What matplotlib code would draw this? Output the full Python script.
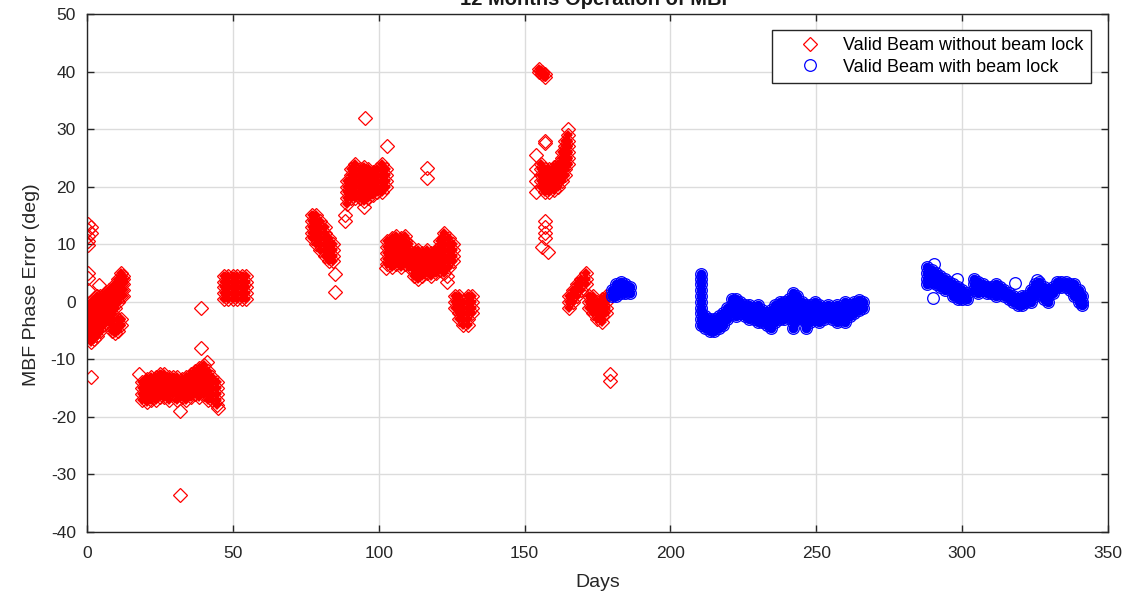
import numpy as np
import matplotlib.pyplot as plt

plt.rcParams['font.family'] = ['Liberation Sans', 'DejaVu Sans']
plt.rcParams['axes.unicode_minus'] = False

# red diamonds: valid beam without beam lock
# dense clusters as columns of (day, [phase error deg])
red_cols = [
    # days 0-13
    (0.5, [-6, -5, -4, -3, -2, -1]),
    (1.5, [-7, -6, -5, -4, -3, -2, -1, 0]),
    (2.5, [-6.5, -5, -4, -3, -2, -1, 0]),
    (3.5, [-6, -5, -4, -3, -2, -1, 0, 1]),
    (4.5, [-5, -4, -3, -2, -1, 0, 1]),
    (5.5, [-4, -3, -2, -1, 0, 1]),
    (6.5, [-3.5, -2.5, -1.5, -0.5, 0.5, 1.5]),
    (7.5, [-3, -2, -1, 0, 1, 2]),
    (8.5, [-5, -4, -3, -2, -1, 0, 1, 2]),
    (9.5, [-5.5, -4.5, -1, 0, 1, 2, 3]),
    (10.5, [-5, -4, -3, 0, 1, 2, 3, 4]),
    (11.5, [-4, -3, 1, 2, 3, 4, 5]),
    (12.5, [1, 2, 3, 4, 4.5]),
    # days 18-46
    (19.0, [-14, -15, -16, -17]),
    (20.5, [-13.5, -14.5, -15.5, -16.5, -17.5]),
    (22.0, [-13, -14, -15, -16, -17]),
    (23.5, [-13, -14, -15, -16, -17]),
    (25.0, [-12.5, -13.5, -14.5, -15.5, -16.5]),
    (26.5, [-12.5, -13.5, -14.5, -15.5, -16.5]),
    (28.0, [-13, -14, -15, -16, -17]),
    (29.5, [-13, -14, -15, -16]),
    (31.0, [-13, -14, -15, -16, -17]),
    (32.5, [-13.5, -14.5, -15.5, -16.5]),
    (34.0, [-13, -14, -15, -16, -17]),
    (35.5, [-12.5, -13.5, -14.5, -15.5, -16.5]),
    (37.0, [-12, -13, -14, -15, -16]),
    (38.5, [-11.5, -12.5, -13.5, -14.5, -15.5, -16.5]),
    (40.0, [-11, -12, -13, -14, -15, -16]),
    (41.5, [-12, -13, -14, -15, -16, -17]),
    (43.0, [-13, -14, -15, -16, -17]),
    (44.5, [-14, -15, -16, -17, -18]),
    # days 46-55
    (47.0, [0.5, 1.5, 2.5, 3.5, 4.5]),
    (48.5, [0.5, 1.5, 2.5, 3.5, 4.5]),
    (50.0, [0.5, 1.5, 2.5, 3.5, 4.5]),
    (51.5, [0.5, 1.5, 2.5, 3.5, 4.5]),
    (53.0, [0.5, 1.5, 2.5, 3.5, 4.5]),
    (54.5, [0.5, 1.5, 2.5, 3.5, 4.5]),
    # days 77-86
    (77.0, [11, 12, 13, 14, 15]),
    (78.5, [10, 11, 12, 13, 14, 15]),
    (80.0, [9, 10, 11, 12, 13, 14]),
    (81.5, [8, 9, 10, 11, 12, 13]),
    (83.0, [7, 8, 9, 10, 11]),
    (84.5, [7, 8, 9, 10]),
    # days 88-103
    (89.0, [17, 18, 19, 20, 21]),
    (90.5, [18, 19, 20, 21, 22, 23]),
    (92.0, [18, 19, 20, 21, 22, 23, 24]),
    (93.5, [18, 19, 20, 21, 22, 23]),
    (95.0, [17.5, 18.5, 19.5, 20.5, 21.5, 22.5, 23.5]),
    (96.5, [18, 19, 20, 21, 22, 23]),
    (98.0, [18.5, 19.5, 20.5, 21.5, 22.5]),
    (99.5, [19, 20, 21, 22, 23]),
    (101.0, [19, 20, 21, 22, 23, 24]),
    (102.5, [20, 21, 22, 23]),
    # days 103-126
    (103.0, [6.5, 7.5, 8.5, 9.5, 10.5]),
    (104.5, [6, 7, 8, 9, 10, 11]),
    (106.0, [6.5, 7.5, 8.5, 9.5, 10.5, 11.5]),
    (107.5, [6, 7, 8, 9, 10, 11]),
    (109.0, [6.5, 7.5, 8.5, 9.5, 10.5, 11.5]),
    (110.5, [6, 7, 8, 9, 10]),
    (112.0, [4.5, 5.5, 6.5, 7.5, 8.5]),
    (113.5, [4, 5, 6, 7, 8, 9]),
    (115.0, [4.5, 5.5, 6.5, 7.5, 8.5]),
    (116.5, [5, 6, 7, 8, 9]),
    (118.0, [4.5, 5.5, 6.5, 7.5, 8.5]),
    (119.5, [5, 6, 7, 8, 9]),
    (121.0, [5.5, 6.5, 7.5, 8.5, 9.5, 10.5]),
    (122.5, [5, 6, 7, 8, 9, 10, 11, 12]),
    (124.0, [6, 7, 8, 9, 10, 11]),
    (125.5, [7, 8, 9, 10]),
    # days 126-133
    (126.0, [-1, 0, 1]),
    (127.5, [-3, -2, -1, 0, 1]),
    (129.0, [-4, -3, -2, -1, 0]),
    (130.5, [-4, -3, -2, -1, 0, 1]),
    (132.0, [-2, -1, 0, 1]),
    # days 153-166
    (155.0, [40.5, 40.0]),
    (155.5, [20, 21, 22, 23, 24]),
    (156.0, [40.0, 39.5]),
    (157.0, [39.5, 39.0, 19, 20, 21, 22, 23]),
    (158.5, [19, 20, 21, 22, 23]),
    (160.0, [19.5, 20.5, 21.5, 22.5, 23.5]),
    (161.5, [20, 21, 22, 23, 24]),
    (163.0, [21, 22, 23, 24, 25, 26]),
    (164.0, [22, 23, 24, 25, 26, 27, 28]),
    (165.0, [24, 25, 26, 27, 28, 29]),
    # days 165-179
    (165.2, [-1, 0, 1]),
    (166.5, [0, 1, 2]),
    (168.0, [1, 2, 3]),
    (169.5, [2, 3, 4]),
    (171.0, [3, 4, 5]),
    (172.0, [0, 1, -1]),
    (173.5, [-2, -1, 0, 1]),
    (175.0, [-3, -2, -1, 0]),
    (176.5, [-3.5, -2.5, -1.5, -0.5, 0.5]),
    (178.0, [-2, -1, 0, 1]),
]
# scattered single points
red_iso_day = [0.5, 0.5, 0.5, 0.5, 0.5, 0.5, 0.5, 0.5, 1.5, 1.5, 1.5, 4.0,
               18.0, 32.0, 32.0, 39.0, 39.0, 41.0, 45.0, 85.0, 85.0, 88.5, 88.5,
               95.3, 95.0, 102.7, 102.5, 116.4, 116.4, 123.5, 123.5,
               154.0, 154.0, 154.0, 154.0, 156.0, 157.0, 157.0, 157.0, 157.0,
               157.0, 157.0, 158.0, 165.0, 179.3, 179.3]
red_iso_deg = [13.5, 12.5, 11.5, 10.5, 9.8, 5.0, 4.2, 2.0, 13.0, 12.0, -13.0, 2.9,
               -12.5, -19.0, -33.5, -1.0, -8.0, -10.5, -18.5, 4.8, 1.7, 15.0, 14.0,
               32.0, 16.5, 27.0, 5.8, 23.2, 21.5, 4.5, 3.5,
               19.0, 21.0, 23.0, 25.5, 9.5, 28.0, 27.5, 14.0, 13.0,
               12.0, 11.0, 8.7, 30.0, -12.5, -13.7]

# blue circles: valid beam with beam lock
blue_cols = [
    (180.0, [1, 2]),
    (181.5, [1, 2, 3]),
    (183.0, [1.5, 2.5, 3.5]),
    (184.5, [1.5, 2.5, 3]),
    (186.0, [1.5, 2.5]),
    (210.5, [4.8, 4, 3, 2, 1, 0, -1, -2, -3, -4]),
    (212.0, [-2.5, -3.5, -4.5]),
    (213.5, [-3, -4, -5]),
    (215.0, [-3, -4, -5]),
    (216.5, [-2.5, -3.5, -4.5]),
    (218.0, [-2, -3, -4]),
    (219.5, [-1, -2, -3]),
    (221.0, [0.5, -0.5, -1.5, -2]),
    (222.5, [0.5, -0.5, -1.5, -2.5]),
    (224.0, [0, -1, -2]),
    (225.5, [-0.5, -1.5, -2.5]),
    (227.0, [-0.5, -1.5, -2.5, -3]),
    (228.5, [-1, -2, -3]),
    (230.0, [-0.5, -1.5, -2.5, -3.5]),
    (231.5, [-1.5, -2.5, -3.5]),
    (233.0, [-2, -3, -4]),
    (234.5, [-1.5, -2.5, -3.5, -4.5]),
    (236.0, [-0.5, -1.5, -2.5, -3.5]),
    (237.5, [0, -1, -2, -3]),
    (239.0, [0, -1, -2, -3]),
    (240.5, [0.5, -0.5, -1.5, -2.5]),
    (242.0, [1.5, 0.5, -0.5, -1.5, -2.5, -3.5, -4.5]),
    (243.5, [1, 0, -1, -2, -3]),
    (245.0, [0, -1, -2, -3]),
    (246.5, [-0.5, -1.5, -2.5, -3.5, -4.5]),
    (248.0, [-0.5, -1.5, -2.5, -3.5]),
    (249.5, [0, -1, -2, -3]),
    (251.0, [-0.5, -1.5, -2.5, -3.5]),
    (252.5, [-1, -2, -3]),
    (254.0, [-0.5, -1.5, -2.5]),
    (255.5, [-1, -2, -3]),
    (257.0, [-0.5, -1.5, -2.5, -3.5]),
    (258.5, [-1, -2, -3]),
    (260.0, [0, -1, -2, -3.5]),
    (261.5, [-0.5, -1.5, -2.5]),
    (263.0, [0, -1, -2]),
    (264.5, [0.3, -0.7, -1.5]),
    (266.0, [0, -1]),
    (288.0, [6, 5, 4, 3]),
    (289.5, [5.5, 4.5, 3.5]),
    (291.0, [5, 4, 3]),
    (292.5, [4.5, 3.5, 2.5]),
    (294.0, [4, 3, 2]),
    (295.5, [3.5, 2.5]),
    (297.0, [3, 2, 1]),
    (298.5, [2.5, 1.5, 0.5]),
    (300.0, [2, 1, 0.5]),
    (301.5, [1.5, 0.5]),
    (304.0, [4, 3, 2]),
    (305.5, [3.5, 2.5, 1.5]),
    (307.0, [3, 2]),
    (308.5, [2.5, 1.5]),
    (310.0, [2.5, 1.5]),
    (311.5, [3, 2, 1]),
    (313.0, [2.5, 1.5]),
    (314.5, [2, 1]),
    (316.0, [1.5, 0.5]),
    (317.5, [1, 0]),
    (319.0, [0.5, -0.5]),
    (320.5, [1, 0, -0.5]),
    (322.0, [1, 0]),
    (323.5, [2, 1, 0]),
    (325.0, [3, 2, 1]),
    (326.5, [3.5, 2.5, 1.5]),
    (328.0, [2.5, 1.5, 0.5]),
    (329.5, [2, 1, 0]),
    (331.0, [2.5, 1.5]),
    (332.5, [3.5, 2.5]),
    (334.0, [3.5, 2.5]),
    (335.5, [3.5, 2.5]),
    (337.0, [3, 2]),
    (338.5, [3, 2, 1]),
    (340.0, [2, 1, 0]),
    (341.0, [1, 0, -0.5]),
]
blue_iso_day = [290.0, 290.2, 298.2, 318.2, 325.5]
blue_iso_deg = [0.6, 6.6, 4.0, 3.2, 3.8]

red_day = [d for d, ys in red_cols for _ in ys]
red_deg = [y for d, ys in red_cols for y in ys]
blue_day = [d for d, ys in blue_cols for _ in ys]
blue_deg = [y for d, ys in blue_cols for y in ys]

fig = plt.figure(figsize=(11.25, 5.98), dpi=100)
ax = fig.add_axes([0.0773, 0.1104, 0.9076, 0.8662])

# dense clusters: filled core under the open markers so blobs read solid
ax.plot(red_day, red_deg, 'D', color='red', ms=5.6, mew=0)
ax.plot(red_day + red_iso_day, red_deg + red_iso_deg, 'D', color='red', mfc='none',
        ms=7.0, mew=0.9, label='Valid Beam without beam lock')
ax.plot(blue_day, blue_deg, 'o', color='blue', ms=7.0, mew=0)
ax.plot(blue_day + blue_iso_day, blue_deg + blue_iso_deg, 'o', color='blue', mfc='none',
        ms=8.4, mew=0.9, label='Valid Beam with beam lock')

ax.set_xlim(0, 350)
ax.set_ylim(-40, 50)
ax.set_xticks(np.arange(0, 351, 50))
ax.set_yticks(np.arange(-40, 51, 10))
ax.grid(True, color='#dcdcdc', linewidth=1)
ax.set_axisbelow(True)
ax.tick_params(direction='in', top=True, right=True, length=5, width=1,
               labelsize=12.5, colors='#262626')
ax.tick_params(axis='x', pad=10)
ax.tick_params(axis='y', pad=8)
for sp in ax.spines.values():
    sp.set_color('#262626')
    sp.set_linewidth(1)

ax.set_xlabel('Days', fontsize=14, color='#262626')
ax.set_ylabel('MBF Phase Error (deg)', fontsize=14, color='#262626')
ax.xaxis.set_label_coords(0.5, -0.081)
ax.yaxis.set_label_coords(-0.046, 0.477)

fig.text(0.531, 1 - 5 / 598, '12 Months Operation of MBF', ha='center',
         va='baseline', fontsize=14.5, fontweight='bold', color='#1a1a1a')

handles, labels = ax.get_legend_handles_labels()
leg = ax.legend(handles, labels, loc='upper right', bbox_to_anchor=(0.9834, 0.969),
                borderaxespad=0, fontsize=13, fancybox=False, framealpha=1,
                edgecolor='#262626', handletextpad=0.15, handlelength=3.4,
                borderpad=0.4, labelspacing=0.25)
leg.get_frame().set_linewidth(1)

fig.savefig('out.png', dpi=100)
